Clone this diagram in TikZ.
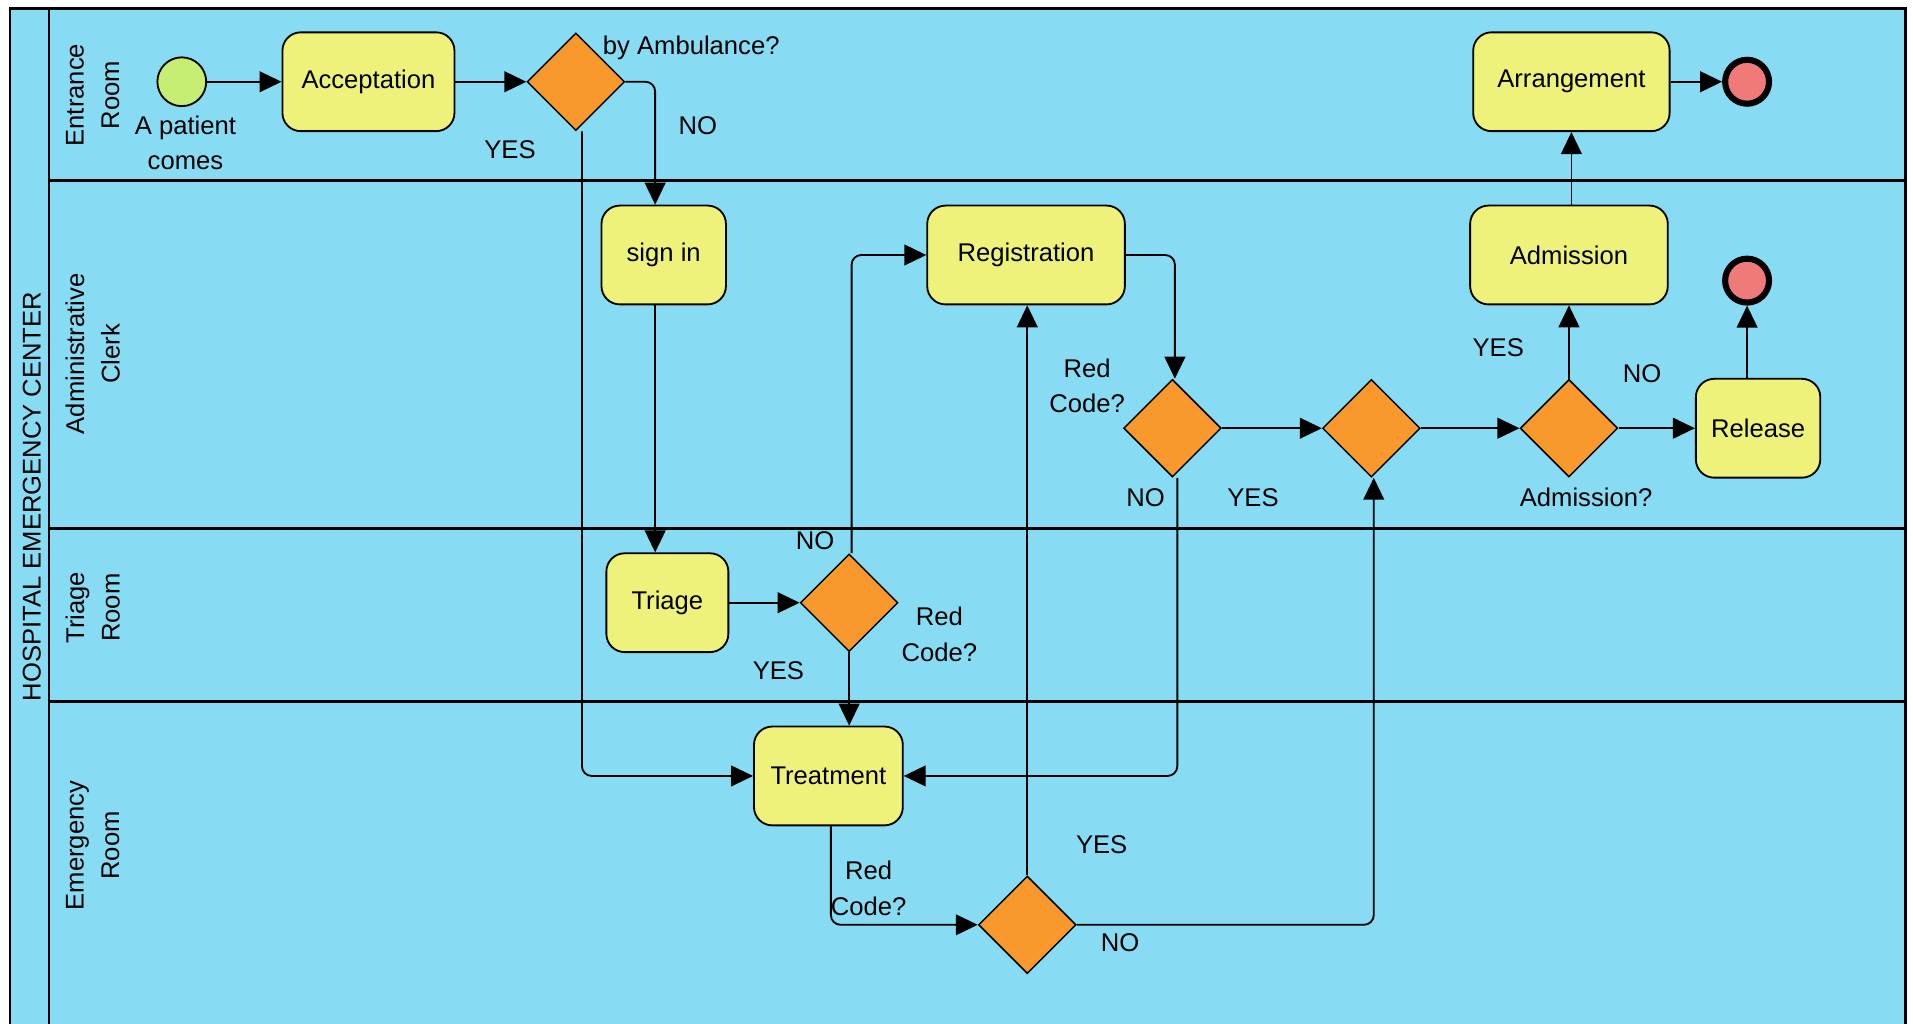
\documentclass[tikz,border=0pt]{standalone}
\usepackage{fontspec}
\setmainfont{Liberation Sans}
\usetikzlibrary{shapes.geometric,arrows.meta}
\definecolor{laneblue}{RGB}{135,220,244}
\definecolor{taskyellow}{RGB}{238,242,122}
\definecolor{gworange}{RGB}{248,152,45}
\definecolor{startgreen}{RGB}{198,238,114}
\definecolor{endred}{RGB}{240,122,122}
\newcommand\lblfont{\fontsize{21}{29}\selectfont}
\begin{document}
\begin{tikzpicture}[x=1pt,y=-1pt,
 task/.style={draw=black,line width=1.5pt,fill=taskyellow,rounded corners=15pt,minimum height=81pt,font=\lblfont,inner sep=0pt},
 gw/.style={diamond,draw=black,line width=1.2pt,fill=gworange,minimum width=80pt,minimum height=80pt,inner sep=0pt},
 txt/.style={font=\lblfont,align=center,inner sep=0pt},
 flow/.style={draw=black,line width=1.5pt,rounded corners=8pt,-{Triangle[length=18pt,width=17pt]}},
 lane/.style={draw=black,line width=2pt},
 startev/.style={circle,draw=black,line width=1.5pt,fill=startgreen,minimum size=40pt,inner sep=0pt},
 endev/.style={circle,draw=black,line width=5pt,fill=endred,minimum size=36pt,inner sep=0pt},
]
\useasboundingbox (0,0) rectangle (1568,839);
% pool and lanes
\draw[lane,fill=laneblue] (8,7) rectangle (1562,840);
\draw[lane] (40,7) -- (40,840);
\draw[lane] (40,148) -- (1562,148);
\draw[lane] (40,433) -- (1562,433);
\draw[lane] (40,575) -- (1562,575);
\node[txt,rotate=90] (pool) at (26,407) {HOSPITAL EMERGENCY CENTER};
\node[txt,rotate=90] (l1) at (76,78) {Entrance\\Room};
\node[txt,rotate=90] (l2) at (76,290) {Administrative\\Clerk};
\node[txt,rotate=90] (l3) at (76,498) {Triage\\Room};
\node[txt,rotate=90] (l4) at (76,693) {Emergency\\Room};

% nodes
\node[startev] (start) at (149,67) {};
\node[txt] (startlbl) at (152,117) {A patient\\comes};
\node[task,minimum width=141pt] (acc) at (302,67) {Acceptation};
\node[gw] (g1) at (472,67) {};
\node[txt,anchor=west] (g1lbl) at (494,39) {by Ambulance?};
\node[task,minimum width=102pt] (signin) at (544,209) {sign in};
\node[task,minimum width=162pt] (reg) at (841,209) {Registration};
\node[task,minimum width=161pt] (arr) at (1288,67) {Arrangement};
\node[endev] (end1) at (1432,67) {};
\node[task,minimum width=162pt] (adm) at (1286,209) {Admission};
\node[endev] (end2) at (1432,230) {};
\node[gw] (g3) at (961,351) {};
\node[txt] (g3lbl) at (891,316) {Red\\Code?};
\node[gw] (g5) at (1124,351) {};
\node[gw] (g6) at (1286,351) {};
\node[txt] (g6lbl) at (1300,408) {Admission?};
\node[task,minimum width=102pt] (rel) at (1441,351) {Release};
\node[task,minimum width=100pt] (triage) at (547,494) {Triage};
\node[gw] (g2) at (696,494) {};
\node[txt] (g2lbl) at (770,520) {Red\\Code?};
\node[task,minimum width=122pt] (treat) at (679,636) {Treatment};
\node[gw] (g4) at (842,758) {};
\node[txt] (g4lbl) at (712,728) {Red\\Code?};

% edge labels
\node[txt] (yes1) at (418,123) {YES};
\node[txt] (no1) at (572,103) {NO};
\node[txt] (no2) at (668,443) {NO};
\node[txt] (yes2) at (638,550) {YES};
\node[txt] (no3) at (939,408) {NO};
\node[txt] (yes3) at (1027,408) {YES};
\node[txt] (yes4) at (903,692) {YES};
\node[txt] (no4) at (918,773) {NO};
\node[txt] (yes5) at (1228,285) {YES};
\node[txt] (no5) at (1346,306) {NO};

% connectors
\draw[flow] (start) -- (acc);
\draw[flow] (acc) -- (g1);
\draw[flow] (g1.east) -| ([xshift=-7pt]signin.north);
\draw[flow] ([xshift=5pt]g1.south) |- (treat.west);
\draw[flow] ([xshift=-7pt]signin.south) -- ([xshift=-7pt]signin.south |- triage.north);
\draw[flow] (triage) -- (g2);
\draw[flow] ([xshift=2pt]g2.north) |- (reg.west);
\draw[flow] (g2.south) -- (g2.south |- treat.north);
\draw[flow] (reg.east) -| ([xshift=2pt]g3.north);
\draw[flow] (g3) -- (g5);
\draw[flow] ([xshift=4pt]g3.south) |- (treat.east);
\draw[flow] ([xshift=2pt]treat.south) |- (g4.west);
\draw[flow] (g4.north) -- (g4.north |- reg.south);
\draw[flow] (g4.east) -| ([xshift=2pt]g5.south);
\draw[flow] (g5) -- (g6);
\draw[flow] (g6.north) -- (g6.north |- adm.south);
\draw[flow] (g6) -- (rel);
\draw[flow] ([xshift=2pt]adm.north) -- ([xshift=2pt]adm.north |- arr.south);
\draw[flow] (end2.south |- rel.north) -- (end2.south);
\draw[flow] (arr) -- (end1);
\end{tikzpicture}
\end{document}
